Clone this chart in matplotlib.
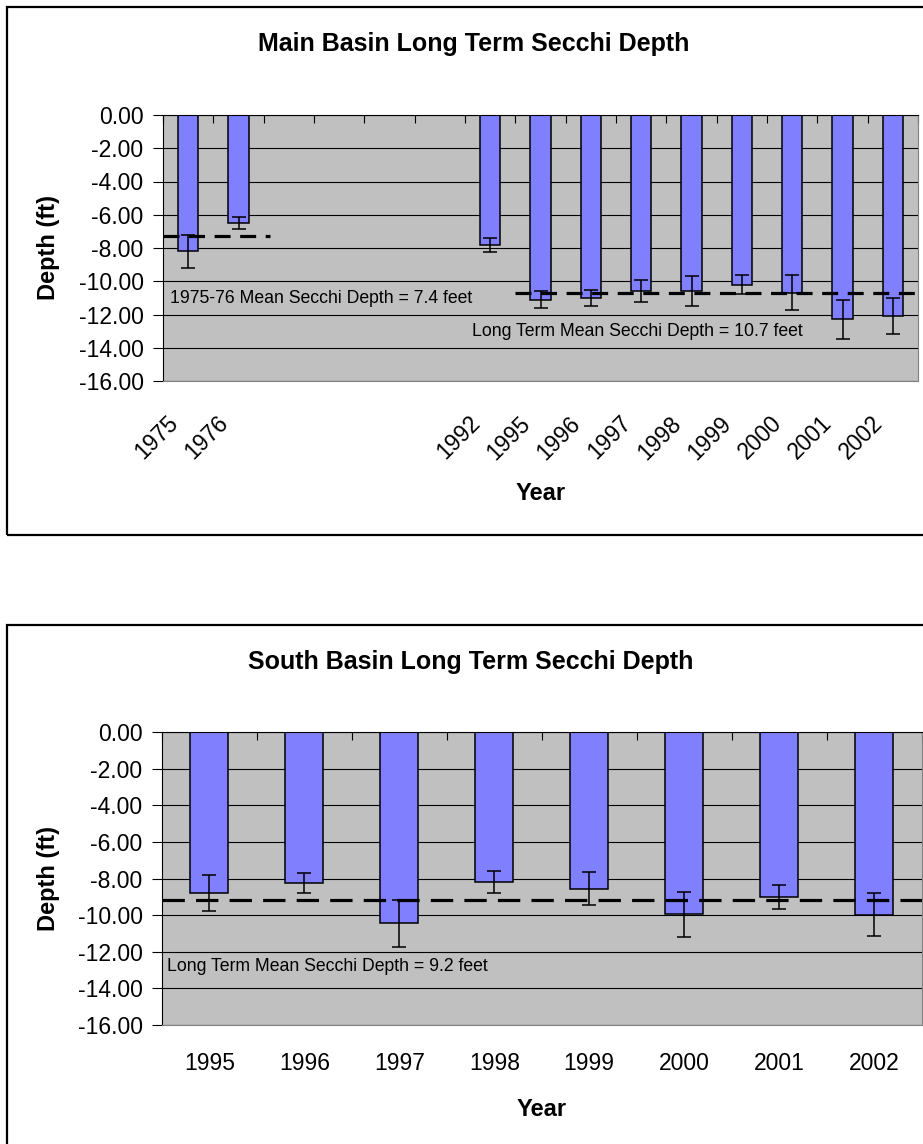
import matplotlib
matplotlib.use('Agg')
import matplotlib.pyplot as plt
import numpy as np
from matplotlib.patches import Rectangle
from matplotlib.ticker import FormatStrFormatter
from matplotlib.transforms import ScaledTranslation

plt.rcParams['font.family'] = ['Liberation Sans', 'DejaVu Sans']
plt.rcParams['axes.unicode_minus'] = False

# ---------------- data ----------------
main_categories = ['1975', '1976', '', '', '', '', '1992', '1995', '1996',
                   '1997', '1998', '1999', '2000', '2001', '2002']
main_depth = [-8.2, -6.5, None, None, None, None, -7.8, -11.1, -11.0,
              -10.6, -10.6, -10.2, -10.7, -12.3, -12.1]
main_err = [1.0, 0.35, None, None, None, None, 0.42, 0.5, 0.5,
            0.66, 0.9, 0.55, 1.05, 1.15, 1.1]
main_early_mean = -7.3
main_long_mean = -10.7
main_early_label = '1975-76 Mean Secchi Depth = 7.4 feet'
main_long_label = 'Long Term Mean Secchi Depth = 10.7 feet'

south_categories = ['1995', '1996', '1997', '1998', '1999', '2000', '2001', '2002']
south_depth = [-8.8, -8.25, -10.45, -8.2, -8.55, -9.95, -9.0, -9.98]
south_err = [1.0, 0.53, 1.27, 0.6, 0.9, 1.22, 0.64, 1.18]
south_mean = -9.15
south_label = 'Long Term Mean Secchi Depth = 9.2 feet'

y_ticks = [0, -2, -4, -6, -8, -10, -12, -14, -16]

# ---------------- figure ----------------
W, H = 923, 1144
fig = plt.figure(figsize=(W / 100, H / 100), dpi=100)


def fx(px):
    return px / W


def fy(py):
    return 1 - py / H


# chart frames
fig.add_artist(Rectangle((fx(7), fy(535)), (943 - 7) / W, (535 - 7) / H,
                         transform=fig.transFigure, fill=False,
                         edgecolor='black', linewidth=1.6))
fig.add_artist(Rectangle((fx(7), fy(1150)), (943 - 7) / W, (1150 - 625) / H,
                         transform=fig.transFigure, fill=False,
                         edgecolor='black', linewidth=1.6))

ax1 = fig.add_axes([fx(163), fy(381), (918 - 163) / W, (381 - 115) / H])
ax2 = fig.add_axes([fx(162), fy(1025), (921.5 - 162) / W, (1025 - 732) / H])

BAR_COLOR = '#8080FF'
TICK_FS = 16.5


def style(ax, n):
    ax.set_facecolor('#C0C0C0')
    ax.set_xlim(-0.5, n - 0.5)
    ax.set_ylim(-16, 0)
    ax.set_yticks(y_ticks)
    ax.yaxis.set_major_formatter(FormatStrFormatter('%.2f'))
    ax.grid(axis='y', color='black', linewidth=0.8)
    ax.set_axisbelow(True)
    for s in ['left', 'top']:
        ax.spines[s].set_color('black')
        ax.spines[s].set_linewidth(0.8)
    for s in ['right', 'bottom']:
        ax.spines[s].set_color('#808080')
        ax.spines[s].set_linewidth(0.8)
    ax.tick_params(axis='y', direction='out', length=7, width=0.8,
                   labelsize=TICK_FS, pad=7)
    ax.set_xticks(np.arange(n))
    ax.set_xticks(np.arange(-0.5, n), minor=True)
    ax.tick_params(axis='x', which='minor', top=True, bottom=False,
                   direction='in', length=6, width=0.8, color='black')


def draw(ax, cats, vals, errs):
    idx = [i for i, v in enumerate(vals) if v is not None]
    xs = np.array(idx)
    v = np.array([vals[i] for i in idx])
    e = np.array([errs[i] for i in idx])
    ax.bar(xs, v, width=0.4, color=BAR_COLOR, edgecolor='black',
           linewidth=1.1, zorder=2)
    ax.errorbar(xs, v, yerr=e, fmt='none', ecolor='black', elinewidth=1.1,
                capsize=4.7, capthick=1.1, zorder=4)


# ---- top chart ----
n1 = len(main_categories)
style(ax1, n1)
draw(ax1, main_categories, main_depth, main_err)
ax1.plot([-0.5, 1.63], [main_early_mean, main_early_mean], color='black',
         lw=2.3, dashes=(5, 3), zorder=3)
ax1.plot([6.5, n1 - 0.5], [main_long_mean, main_long_mean], color='black',
         lw=2.3, dashes=(5, 3), zorder=3)
ax1.set_xticklabels(main_categories)
ax1.tick_params(axis='x', which='major', length=0, labelsize=TICK_FS, pad=28)
offset = ScaledTranslation(-14 / 100, 0, fig.dpi_scale_trans)
for lab in ax1.get_xticklabels():
    lab.set_rotation(45)
    lab.set_ha('right')
    lab.set_va('center')
    lab.set_rotation_mode('anchor')
    lab.set_transform(lab.get_transform() + offset)
ax1.text(-0.36, -11.33, main_early_label, fontsize=12.7, ha='left',
         va='baseline', zorder=5)
ax1.text(5.63, -13.3, main_long_label, fontsize=12.7, ha='left',
         va='baseline', zorder=5)
ax1.set_ylabel('Depth (ft)', fontsize=17, fontweight='bold')
ax1.yaxis.set_label_coords((60 - 163) / 755, 0.5)

fig.text(fx(474), fy(51.5), 'Main Basin Long Term Secchi Depth',
         fontsize=18, fontweight='bold', ha='center', va='baseline')
fig.text(fx(541), fy(500.5), 'Year', fontsize=17, fontweight='bold',
         ha='center', va='baseline')

# ---- bottom chart ----
n2 = len(south_categories)
style(ax2, n2)
draw(ax2, south_categories, south_depth, south_err)
ax2.plot([-0.5, n2 - 0.5], [south_mean, south_mean], color='black',
         lw=2.3, dashes=(7, 3.5), zorder=3)
ax2.set_xticklabels(south_categories)
ax2.tick_params(axis='x', which='major', length=0, labelsize=TICK_FS, pad=19.5)
ax2.text(-0.45, -13.07, south_label, fontsize=12.7, ha='left',
         va='baseline', zorder=5)
ax2.set_ylabel('Depth (ft)', fontsize=17, fontweight='bold')
ax2.yaxis.set_label_coords((60 - 162) / 759.5, 0.5)

fig.text(fx(471), fy(668.5), 'South Basin Long Term Secchi Depth',
         fontsize=18, fontweight='bold', ha='center', va='baseline')
fig.text(fx(542), fy(1115.5), 'Year', fontsize=17, fontweight='bold',
         ha='center', va='baseline')

fig.savefig('out.png', dpi=100)
